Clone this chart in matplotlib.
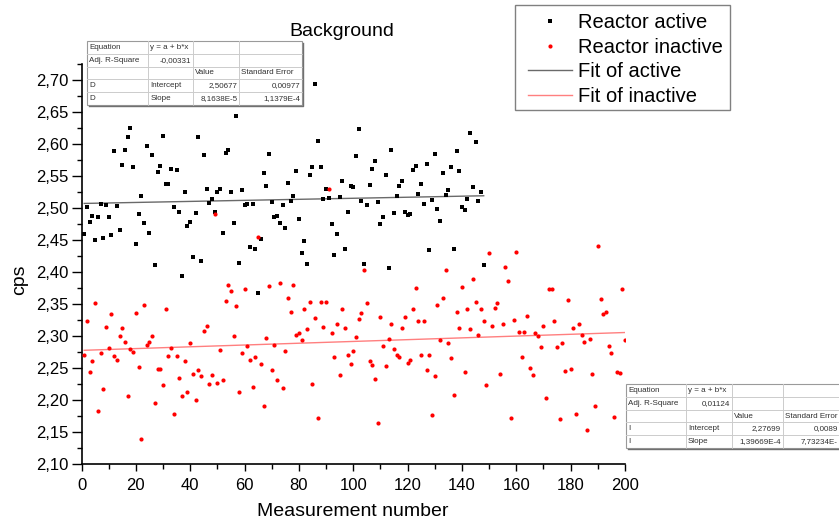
import numpy as np
import matplotlib
matplotlib.use("Agg")
import matplotlib.pyplot as plt
from matplotlib.patches import Rectangle
from matplotlib.lines import Line2D
from matplotlib.ticker import MultipleLocator, FuncFormatter

plt.rcParams['font.family'] = ['Liberation Sans', 'DejaVu Sans']

# ---------------- data ----------------
active_cps = [
    2.459, 2.502, 2.478, 2.4875, 2.449, 2.486, 2.506, 2.453, 2.504, 2.4855,
    2.457, 2.589, 2.503, 2.465, 2.567, 2.591, 2.611, 2.6245, 2.564, 2.443,
    2.490, 2.518, 2.477, 2.597, 2.461, 2.582, 2.410, 2.556, 2.565, 2.613,
    2.5365, 2.5365, 2.560, 2.5015, 2.559, 2.493, 2.393, 2.525, 2.471, 2.478,
    2.423, 2.492, 2.6105, 2.417, 2.582, 2.530, 2.508, 2.5145, 2.494, 2.5245,
    2.530, 2.461, 2.586, 2.591, 2.524, 2.477, 2.643, 2.413, 2.528, 2.504,
    2.506, 2.439, 2.506, 2.435, 2.366, 2.451, 2.555, 2.534, 2.584, 2.509,
    2.486, 2.4875, 2.4765, 2.504, 2.468, 2.5385, 2.5105, 2.518, 2.558, 2.482,
    2.430, 2.4485, 2.4125, 2.551, 2.5645, 2.694, 2.604, 2.5645, 2.5145, 2.530,
    2.5155, 2.475, 2.426, 2.4595, 2.5165, 2.5427, 2.4355, 2.494, 2.534, 2.5325,
    2.581, 2.623, 2.510, 2.4125, 2.504, 2.5355, 2.5605, 2.5735, 2.5085, 2.474,
    2.486, 2.551, 2.406, 2.591, 2.4917, 2.518, 2.534, 2.5427, 2.494, 2.488,
    2.490, 2.559, 2.566, 2.5215, 2.538, 2.506, 2.568, 2.4333, 2.5125, 2.584,
    2.498, 2.479, 2.555, 2.520, 2.5277, 2.5645, 2.435, 2.589, 2.557, 2.502,
    2.496, 2.514, 2.6178, 2.533, 2.6037, 2.5105, 2.5245, 2.410,
]

inactive_cps = [
    2.2698, 2.3224, 2.2427, 2.2599, 2.3516, 2.1823, 2.2734, 2.2167, 2.313, 2.2802,
    2.3333, 2.2677, 2.2625, 2.299, 2.3115, 2.2901, 2.2063, 2.2786, 2.275, 2.335,
    2.251, 2.1386, 2.348, 2.2854, 2.290, 2.299, 2.1948, 2.2474, 2.2474, 2.2224,
    2.3422, 2.2682, 2.2813, 2.1771, 2.2682, 2.2339, 2.2063, 2.261, 2.2115, 2.2886,
    2.2406, 2.200, 2.2458, 2.237, 2.3078, 2.3152, 2.224, 2.239, 2.490, 2.226,
    2.2781, 2.2313, 2.3547, 2.379, 2.370, 2.299, 2.347, 2.2115, 2.273, 2.3734,
    2.2834, 2.2625, 2.2193, 2.2664, 2.455, 2.2557, 2.1901, 2.2958, 2.377, 2.2469,
    2.2854, 2.2313, 2.3828, 2.2177, 2.2766, 2.359, 2.337, 2.3786, 2.301, 2.3047,
    2.2937, 2.3422, 2.3099, 2.3531, 2.224, 2.3276, 2.1714, 2.3531, 2.313, 2.352,
    2.530, 2.3042, 2.2664, 2.3187, 2.239, 2.3417, 2.3115, 2.2698, 2.2557, 2.2766,
    2.2974, 2.326, 2.335, 2.402, 2.351, 2.2599, 2.2542, 2.2328, 2.1636, 2.3297,
    2.2833, 2.2526, 2.2953, 2.3177, 2.2786, 2.2698, 2.2664, 2.312, 2.3297, 2.2578,
    2.2625, 2.3422, 2.375, 2.3224, 2.2698, 2.3224, 2.2458, 2.2698, 2.1761, 2.2375,
    2.348, 2.2938, 2.359, 2.402, 2.2886, 2.2656, 2.2073, 2.3365, 2.3115, 2.376,
    2.2427, 2.3411, 2.3099, 2.389, 2.3531, 2.3005, 2.3422, 2.3224, 2.223, 2.4292,
    2.3152, 2.3437, 2.351, 2.2406, 2.3187, 2.4078, 2.3855, 2.1714, 2.324, 2.4308,
    2.3063, 2.2667, 2.3063, 2.3307, 2.2495, 2.239, 2.3047, 2.299, 2.2818, 2.3152,
    2.203, 2.3734, 2.3734, 2.3224, 2.2818, 2.1693, 2.288, 2.2443, 2.3552, 2.2474,
    2.3115, 2.1776, 2.3187, 2.3005, 2.2906, 2.1526, 2.2953, 2.2401, 2.1901, 2.4396,
    2.3568, 2.3344, 2.3365, 2.2833, 2.273, 2.1734, 2.2438, 2.2422, 2.3734, 2.2938,
]

active_n = np.arange(1, len(active_cps) + 1)
inactive_n = np.arange(1, len(inactive_cps) + 1)

# linear fit results (intercept, slope) as printed in the tables
fit_active = (2.50677, 8.1638e-5)
fit_inactive = (2.27699, 1.39669e-4)

legend_labels = ['Reactor active', 'Reactor inactive', 'Fit of active', 'Fit of inactive']

table_active = [
    ["Equation", "y = a + b*x", "", ""],
    ["Adj. R-Square", "-0,00331", "", ""],
    ["", "", "Value", "Standard Error"],
    ["D", "Intercept", "2,50677", "0,00977"],
    ["D", "Slope", "8,1638E-5", "1,1379E-4"],
]
# the second table is cut by the right edge of the picture in the original
table_inactive = [
    ["Equation", "y = a + b*x", "", ""],
    ["Adj. R-Square", "0,01124", "", ""],
    ["", "", "Value", "Standard Error"],
    ["I", "Intercept", "2,27699", "0,0089"],
    ["I", "Slope", "1,39669E-4", "7,73234E-"],
]
table_align = [
    ["l", "l", "l", "l"],
    ["l", "r", "l", "l"],
    ["l", "l", "l", "l"],
    ["l", "l", "r", "r"],
    ["l", "l", "r", "r"],
]

# ---------------- figure ----------------
W, H = 839, 527
fig = plt.figure(figsize=(W / 100, H / 100), dpi=100)
fig.patch.set_facecolor('white')

L, R, T, B = 81.5, 625.0, 64.0, 463.5
ax = fig.add_axes([L / W, (H - B) / H, (R - L) / W, (B - T) / H])

C_ACT_FIT = '#6a6a6a'
C_INA_FIT = '#ff7f7f'
ax.plot(active_n, fit_active[0] + fit_active[1] * active_n,
        color=C_ACT_FIT, lw=1.0, zorder=2)
ax.plot(inactive_n, fit_inactive[0] + fit_inactive[1] * inactive_n,
        color=C_INA_FIT, lw=1.0, zorder=2)
ax.plot(active_n, active_cps, linestyle='none', marker='s', ms=2.5, mew=0,
        color='black', zorder=3)
ax.plot(inactive_n, inactive_cps, linestyle='none', marker='o', ms=3.0, mew=0,
        color='#ff0000', zorder=3)

ax.set_xlim(0, 200)
ax.set_ylim(2.10, 2.725)
ax.xaxis.set_major_locator(MultipleLocator(20))
ax.xaxis.set_minor_locator(MultipleLocator(10))
ax.yaxis.set_major_locator(MultipleLocator(0.05))
ax.yaxis.set_minor_locator(MultipleLocator(0.025))
ax.yaxis.set_major_formatter(FuncFormatter(lambda v, p: f"{v:.2f}".replace('.', ',')))

for s in ['top', 'right']:
    ax.spines[s].set_visible(False)
for s in ['left', 'bottom']:
    ax.spines[s].set_linewidth(1.2)
ax.tick_params(axis='y', which='major', direction='out', length=7, width=1,
               labelsize=12, pad=2.5)
ax.tick_params(axis='y', which='minor', direction='out', length=3.5, width=1)
ax.tick_params(axis='x', which='major', direction='out', length=5, width=1,
               labelsize=12, pad=5.5)
ax.tick_params(axis='x', which='minor', direction='out', length=3.5, width=1)

fig.text(20 / W, 1 - 280 / H, 'cps', rotation=90, ha='center', va='center', fontsize=14)
fig.text(353 / W, 1 - 511 / H, 'Measurement number', ha='center', va='center', fontsize=14)
fig.text(342 / W, 1 - 31 / H, 'Background', ha='center', va='center', fontsize=14)

# legend (frame drawn separately)
h = [
    Line2D([], [], linestyle='none', marker='s', ms=2.5, mew=0, color='black'),
    Line2D([], [], linestyle='none', marker='o', ms=3.0, mew=0, color='#ff0000'),
    Line2D([], [], color=C_ACT_FIT, lw=1.0),
    Line2D([], [], color=C_INA_FIT, lw=1.0),
]
leg = fig.legend(h, legend_labels, loc='upper left', bbox_to_anchor=(528 / W, 1 - 13.5 / H),
                 bbox_transform=fig.transFigure, fontsize=14.5, frameon=False,
                 borderaxespad=0, handlelength=2.18, handletextpad=0.3,
                 labelspacing=0.27, borderpad=0)
fig.add_artist(Rectangle((515 / W, 1 - 110 / H), 215 / W, 105 / H,
                         transform=fig.transFigure, facecolor='none',
                         edgecolor='#808080', lw=1.0, zorder=5))


def draw_table(xcols, ytop, rowh, cells, aligns, fs=5.8):
    nrows = len(cells)
    ybot = ytop + rowh * nrows
    fx = lambda x: x / W
    fy = lambda y: 1 - y / H
    fig.add_artist(Rectangle((fx(xcols[0]), fy(ybot)), fx(xcols[-1]) - fx(xcols[0]),
                             fy(ytop) - fy(ybot), transform=fig.transFigure,
                             facecolor='white', edgecolor='#9a9a9a', lw=0.8, zorder=10))
    for k in range(1, nrows):
        y = ytop + rowh * k
        fig.add_artist(Line2D([fx(xcols[0]), fx(xcols[-1])], [fy(y), fy(y)],
                              transform=fig.transFigure, color='#cccccc', lw=0.7, zorder=11))
    for x in xcols[1:-1]:
        fig.add_artist(Line2D([fx(x), fx(x)], [fy(ytop), fy(ybot)],
                              transform=fig.transFigure, color='#cccccc', lw=0.7, zorder=11))
    fig.add_artist(Line2D([fx(xcols[0] + 1.5), fx(xcols[-1] + 1), fx(xcols[-1] + 1)],
                          [fy(ybot + 1), fy(ybot + 1), fy(ytop + 1.5)],
                          transform=fig.transFigure, color='#707070', lw=1.0, zorder=11))
    for r, row in enumerate(cells):
        yc = ytop + rowh * (r + 0.5)
        for c, txt in enumerate(row):
            if not txt:
                continue
            if aligns[r][c] == 'l':
                fig.text(fx(xcols[c] + 2), fy(yc), txt, ha='left', va='center',
                         fontsize=fs, color='#303030', zorder=12)
            else:
                xr = min(xcols[c + 1] - 2, W - 1)
                fig.text(fx(xr), fy(yc), txt, ha='right', va='center',
                         fontsize=fs, color='#303030', zorder=12)


draw_table([87.3, 148.3, 193.3, 239.3, 302.3], 41.0, 12.8, table_active, table_align)
draw_table([626.0, 686.0, 731.7, 782.7, 845.7], 384.3, 12.7, table_inactive, table_align)

fig.savefig('out.png', dpi=100)
